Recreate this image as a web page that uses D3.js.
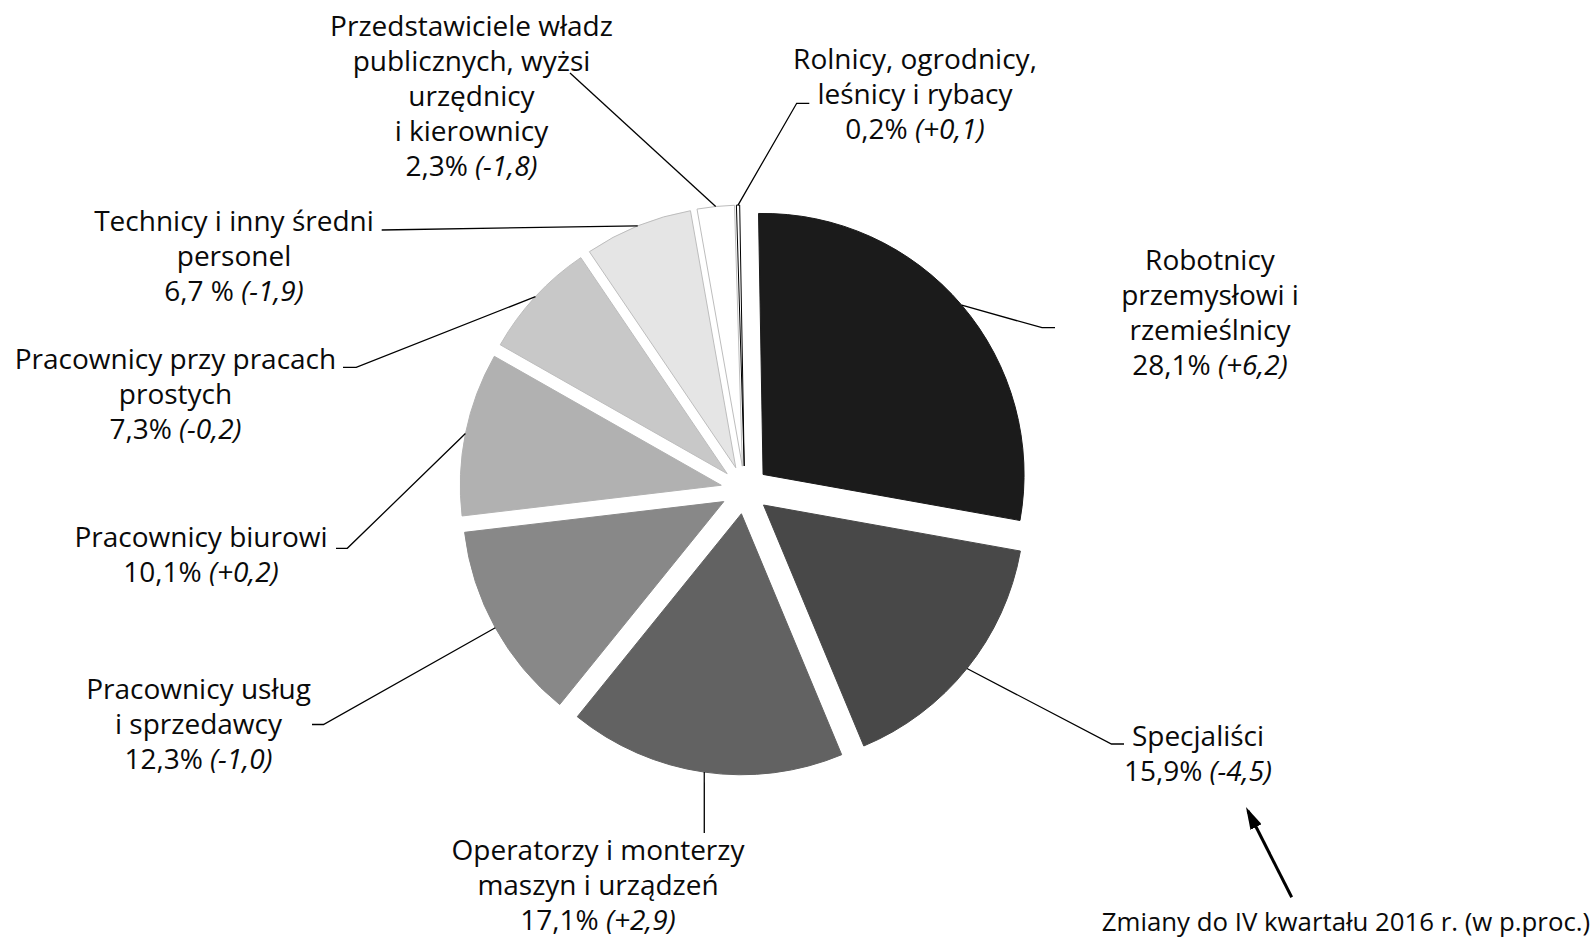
<!DOCTYPE html>
<html>
<head>
<meta charset="utf-8">
<script src="https://cdn.jsdelivr.net/npm/d3@7"></script>
<style>
  html, body { margin: 0; padding: 0; background: #fff; }
  svg { display: block; }
  text { font-family: "Open Sans", "Noto Sans", sans-serif; fill: #0a0a0a; }
</style>
</head>
<body>
<svg id="chart" width="1596" height="941"></svg>
<script>
// ---- data ----
const categories = [
  ["Robotnicy", "przemysłowi i", "rzemieślnicy"],
  ["Specjaliści"],
  ["Operatorzy i monterzy", "maszyn i urządzeń"],
  ["Pracownicy usług", "i sprzedawcy"],
  ["Pracownicy biurowi"],
  ["Pracownicy przy pracach", "prostych"],
  ["Technicy i inny średni", "personel"],
  ["Przedstawiciele władz", "publicznych, wyżsi", "urzędnicy", "i kierownicy"],
  ["Rolnicy, ogrodnicy,", "leśnicy i rybacy"]
];
const shares  = [28.1, 15.9, 17.1, 12.3, 10.1, 7.3, 6.7, 2.3, 0.2];
const changes = [6.2, -4.5, 2.9, -1.0, 0.2, -0.2, -1.9, -1.8, 0.1];
const noteText = "Zmiany do IV kwartału 2016 r. (w p.proc.)";

// ---- styles / layout ----
const fills   = ["#1b1b1b", "#484848", "#626262", "#888888", "#b1b1b1", "#c8c8c8", "#e5e5e5", "#ffffff", "#ffffff"];
const strokes = ["#1b1b1b", "#484848", "#626262", "#888888", "#b1b1b1", "#bdbdbd", "#bdbdbd", "#bdbdbd", "#000000"];
const pctSpace = [false, false, false, false, false, false, true, false, false];
const labelLayout = [
  { x: 1210,  y: 270,   pts: [[1042, 327.7], [1055, 327.7]] },
  { x: 1198,  y: 745.5, pts: [[1111.5, 744], [1124, 744]] },
  { x: 598,   y: 860,   pts: [[704.3, 833]] },
  { x: 198.5, y: 698.5, pts: [[323.5, 724.5], [312, 724.5]] },
  { x: 201,   y: 547,   pts: [[347.3, 548.3], [336, 548.3]] },
  { x: 175.5, y: 369,   pts: [[356.2, 367.4], [343, 367.4]] },
  { x: 234,   y: 231,   pts: [[381.7, 230]] },
  { x: 471.5, y: 35.5,  pts: [[570, 73]] },
  { x: 915,   y: 68.5,  pts: [[796.7, 103.3], [809.3, 103.3]] }
];
const cx = 744.8, cy = 490, R = 261, explode = 24, lineH = 35, fontSize = 28, noteSize = 25.8;
const rot = -1 * Math.PI / 180;

const svg = d3.select("#chart");
const pie = d3.pie().sort(null).value(d => d).startAngle(rot).endAngle(2 * Math.PI + rot);
const arcs = pie(shares);
const arc = d3.arc().innerRadius(0).outerRadius(R);

function offset(a) {
  const m = (a.startAngle + a.endAngle) / 2;
  return [cx + explode * Math.sin(m), cy - explode * Math.cos(m)];
}

// slices
svg.append("g").selectAll("path").data(arcs).join("path")
  .attr("transform", d => { const o = offset(d); return `translate(${o[0]},${o[1]})`; })
  .attr("d", arc)
  .attr("fill", (d, i) => fills[i])
  .attr("stroke", (d, i) => strokes[i])
  .attr("stroke-width", 1);

// leader lines
const line = d3.line();
svg.append("g").selectAll("path").data(arcs).join("path")
  .attr("d", (d, i) => {
    const o = offset(d);
    const m = (d.startAngle + d.endAngle) / 2;
    const start = [o[0] + R * Math.sin(m), o[1] - R * Math.cos(m)];
    return line([start, ...labelLayout[i].pts]);
  })
  .attr("fill", "none")
  .attr("stroke", "#000")
  .attr("stroke-width", 1.3);

// labels
const fmt = v => v.toFixed(1).replace(".", ",");
const lg = svg.append("g").attr("font-size", fontSize);
categories.forEach((lines, i) => {
  const L = labelLayout[i];
  const t = lg.append("text").attr("text-anchor", "middle");
  lines.forEach((s, k) => {
    t.append("tspan").attr("x", L.x).attr("y", L.y + k * lineH).text(s);
  });
  const last = t.append("tspan").attr("x", L.x).attr("y", L.y + lines.length * lineH);
  last.append("tspan").text(fmt(shares[i]) + (pctSpace[i] ? " %" : "%") + " ");
  const sign = changes[i] > 0 ? "+" : "-";
  last.append("tspan").attr("font-style", "italic").text("(" + sign + fmt(Math.abs(changes[i])) + ")");
});

// note with arrow
svg.append("defs").append("marker")
  .attr("id", "arrow").attr("viewBox", "0 0 10 10")
  .attr("preserveAspectRatio", "none")
  .attr("refX", 8).attr("refY", 5)
  .attr("markerWidth", 7.5).attr("markerHeight", 4.2)
  .attr("markerUnits", "strokeWidth")
  .attr("orient", "auto")
  .append("path").attr("d", "M0,0 L10,5 L0,10 z").attr("fill", "#000");

svg.append("line")
  .attr("x1", 1291.7).attr("y1", 897.3)
  .attr("x2", 1248).attr("y2", 811)
  .attr("stroke", "#000").attr("stroke-width", 3)
  .attr("marker-end", "url(#arrow)");

svg.append("text")
  .attr("x", 1346).attr("y", 931)
  .attr("text-anchor", "middle")
  .attr("font-size", noteSize)
  .text(noteText);
</script>
</body>
</html>
